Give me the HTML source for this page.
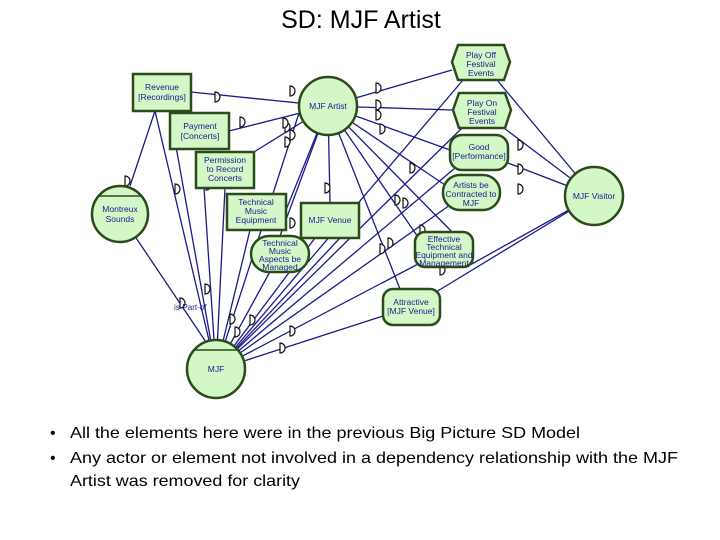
<!DOCTYPE html>
<html><head><meta charset="utf-8"><style>
html,body{margin:0;padding:0;background:#fff;}
svg{display:block;}
text{font-family:"Liberation Sans",sans-serif;}
.n{fill:#d4f7c8;stroke:#2c4a1a;stroke-width:2.5;}
.l{stroke:#1a1a8c;stroke-width:1.3;fill:none;}
.t{font-size:8.5px;fill:#1a1a8c;text-anchor:middle;}
.m{fill:#fff;stroke:#111;stroke-width:1.2;}
</style></head><body>
<svg width="720" height="540" viewBox="0 0 720 540" xmlns="http://www.w3.org/2000/svg">
<text x="361" y="28" font-size="25" text-anchor="middle" fill="#000">SD:  MJF Artist</text>
<g class="l">
<!-- from MJF Artist -->
<line x1="328" y1="106" x2="191" y2="92"/>
<line x1="328" y1="106" x2="229" y2="131"/>
<line x1="328" y1="106" x2="254" y2="152"/>
<line x1="328" y1="106" x2="452" y2="70"/>
<line x1="328" y1="106" x2="453" y2="110"/>
<line x1="328" y1="106" x2="450" y2="150"/>
<line x1="328" y1="106" x2="445" y2="185"/>
<line x1="328" y1="106" x2="330" y2="203"/>
<line x1="328" y1="106" x2="286" y2="210"/>
<line x1="328" y1="106" x2="280" y2="236"/>
<line x1="328" y1="106" x2="420" y2="240"/>
<line x1="328" y1="106" x2="400" y2="289"/>
<line x1="328" y1="106" x2="460" y2="240"/>
<!-- from MJF -->
<line x1="216" y1="370" x2="155" y2="111"/>
<line x1="216" y1="370" x2="170" y2="113"/>
<line x1="216" y1="370" x2="204" y2="188"/>
<line x1="216" y1="370" x2="225" y2="188"/>
<line x1="216" y1="370" x2="250" y2="230"/>
<line x1="216" y1="370" x2="300" y2="110"/>
<line x1="216" y1="370" x2="272" y2="268"/>
<line x1="216" y1="370" x2="315" y2="238"/>
<line x1="216" y1="370" x2="340" y2="238"/>
<line x1="216" y1="370" x2="463" y2="80"/>
<line x1="216" y1="370" x2="462" y2="128"/>
<line x1="216" y1="370" x2="455" y2="168"/>
<line x1="216" y1="370" x2="450" y2="205"/>
<line x1="216" y1="370" x2="420" y2="263"/>
<line x1="216" y1="370" x2="383" y2="316"/>
<line x1="120" y1="214" x2="208" y2="345"/>
<line x1="130" y1="186" x2="155" y2="111"/>
<!-- from MJF Visitor -->
<line x1="594" y1="196" x2="497" y2="80"/>
<line x1="594" y1="196" x2="504" y2="128"/>
<line x1="594" y1="196" x2="508" y2="163"/>
<line x1="594" y1="196" x2="470" y2="265"/>
<line x1="594" y1="196" x2="436" y2="292"/>
</g>
<!-- markers -->
<g class="m">
<path d="M215,92 a5,5 0 0 1 0,10 z"/>
<path d="M240,117 a5,5 0 0 1 0,10 z"/>
<path d="M285,122 a5,5 0 0 1 0,10 z"/>
<path d="M285,137 a5,5 0 0 1 0,10 z"/>
<path d="M376,100 a5,5 0 0 1 0,10 z"/>
<path d="M376,83 a5,5 0 0 1 0,10 z"/>
<path d="M376,110 a5,5 0 0 1 0,10 z"/>
<path d="M380,124 a5,5 0 0 1 0,10 z"/>
<path d="M283,118 a5,5 0 0 1 0,10 z"/>
<path d="M290,86 a5,5 0 0 1 0,10 z"/>
<path d="M290,130 a5,5 0 0 1 0,10 z"/>
<path d="M125,176 a5,5 0 0 1 0,10 z"/>
<path d="M175,184 a5,5 0 0 1 0,10 z"/>
<path d="M235,161 a5,5 0 0 1 0,10 z"/>
<path d="M325,183 a5,5 0 0 1 0,10 z"/>
<path d="M206,180 a5,5 0 0 1 0,10 z"/>
<path d="M290,218 a5,5 0 0 1 0,10 z"/>
<path d="M395,195 a5,5 0 0 1 0,10 z"/>
<path d="M410,163 a5,5 0 0 1 0,10 z"/>
<path d="M403,198 a5,5 0 0 1 0,10 z"/>
<path d="M388,238 a5,5 0 0 1 0,10 z"/>
<path d="M380,244 a5,5 0 0 1 0,10 z"/>
<path d="M420,225 a5,5 0 0 1 0,10 z"/>
<path d="M440,265 a5,5 0 0 1 0,10 z"/>
<path d="M518,184 a5,5 0 0 1 0,10 z"/>
<path d="M518,140 a5,5 0 0 1 0,10 z"/>
<path d="M518,164 a5,5 0 0 1 0,10 z"/>
<path d="M205,284 a5,5 0 0 1 0,10 z"/>
<path d="M180,298 a5,5 0 0 1 0,10 z"/>
<path d="M230,314 a5,5 0 0 1 0,10 z"/>
<path d="M235,327 a5,5 0 0 1 0,10 z"/>
<path d="M250,315 a5,5 0 0 1 0,10 z"/>
<path d="M290,326 a5,5 0 0 1 0,10 z"/>
<path d="M280,343 a5,5 0 0 1 0,10 z"/>
</g>
<text x="174" y="310" font-size="8" fill="#1a1a8c">is-Part-of</text>
<!-- nodes -->
<circle class="n" cx="328" cy="106" r="29"/>
<text class="t" x="328" y="109">MJF Artist</text>
<circle class="n" cx="120" cy="214" r="28"/>
<line x1="98" y1="196" x2="142" y2="196" stroke="#2c4a1a" stroke-width="1.5"/>
<text class="t" x="120" y="212">Montreux</text><text class="t" x="120" y="222">Sounds</text>
<circle class="n" cx="216" cy="369" r="29"/>
<line x1="194" y1="350" x2="238" y2="350" stroke="#2c4a1a" stroke-width="1.5"/>
<text class="t" x="216" y="372">MJF</text>
<circle class="n" cx="594" cy="196" r="29"/>
<text class="t" x="594" y="199">MJF Visitor</text>

<rect class="n" x="133" y="74" width="58" height="37"/>
<text class="t" x="162" y="90">Revenue</text><text class="t" x="162" y="100">[Recordings]</text>
<rect class="n" x="170" y="113" width="59" height="36"/>
<text class="t" x="200" y="129">Payment</text><text class="t" x="200" y="139">[Concerts]</text>
<rect class="n" x="196" y="152" width="58" height="36"/>
<text class="t" x="225" y="163">Permission</text><text class="t" x="225" y="172">to Record</text><text class="t" x="225" y="181">Concerts</text>
<rect class="n" x="227" y="194" width="59" height="36"/>
<text class="t" x="256" y="205">Technical</text><text class="t" x="256" y="214">Music</text><text class="t" x="256" y="223">Equipment</text>
<rect class="n" x="301" y="203" width="58" height="35"/>
<text class="t" x="330" y="223">MJF Venue</text>

<polygon class="n" points="458,45 504,45 510,62 504,80 458,80 452,62"/>
<text class="t" x="481" y="58">Play Off</text><text class="t" x="481" y="67">Festival</text><text class="t" x="481" y="76">Events</text>
<polygon class="n" points="459,93 505,93 511,110 505,128 459,128 453,110"/>
<text class="t" x="482" y="106">Play On</text><text class="t" x="482" y="115">Festival</text><text class="t" x="482" y="124">Events</text>
<rect class="n" x="450" y="135" width="58" height="35" rx="12"/>
<text class="t" x="479" y="150">Good</text><text class="t" x="479" y="159">[Performance]</text>
<rect class="n" x="443" y="175" width="57" height="35" rx="17"/>
<text class="t" x="471" y="188">Artists be</text><text class="t" x="471" y="197">Contracted to</text><text class="t" x="471" y="206">MJF</text>
<rect class="n" x="251" y="236" width="58" height="36" rx="18"/>
<text class="t" x="280" y="246">Technical</text><text class="t" x="280" y="254">Music</text><text class="t" x="280" y="262">Aspects be</text><text class="t" x="280" y="270">Managed</text>
<rect class="n" x="415" y="232" width="58" height="35" rx="10"/>
<text class="t" x="444" y="242">Effective</text><text class="t" x="444" y="250">Technical</text><text class="t" x="444" y="258">Equipment and</text><text class="t" x="444" y="266">Management</text>
<rect class="n" x="383" y="289" width="57" height="36" rx="10"/>
<text class="t" x="411" y="305">Attractive</text><text class="t" x="411" y="314">[MJF Venue]</text>

<g font-size="16" fill="#000">
<text x="50" y="438">•</text>
<text x="70" y="438" textLength="510" lengthAdjust="spacingAndGlyphs">All the elements here were in the previous Big Picture SD Model</text>
<text x="50" y="463">•</text>
<text x="70" y="463" textLength="608" lengthAdjust="spacingAndGlyphs">Any actor or element not involved in a dependency relationship with the MJF</text>
<text x="70" y="486" textLength="230" lengthAdjust="spacingAndGlyphs">Artist was removed for clarity</text>
</g>
</svg>
</body></html>
